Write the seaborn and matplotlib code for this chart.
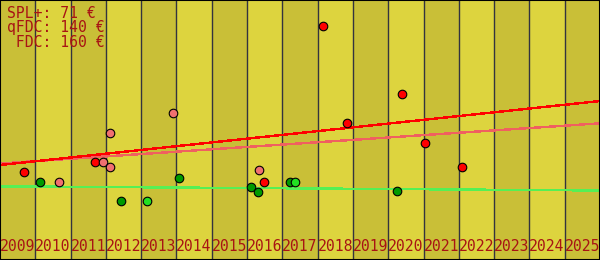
import numpy as np
import pandas as pd
import matplotlib
matplotlib.use("Agg")
import matplotlib.pyplot as plt
import seaborn as sns

# ---- data ----
years = list(range(2009, 2026))
year_labels = [str(y) for y in years]

fdc_x = [2009.68, 2011.69, 2016.48, 2018.15, 2018.83, 2020.39, 2021.04, 2022.09]
fdc_y = [88, 98, 78, 234, 137, 166, 117, 93]

qfdc_x = [2010.67, 2011.92, 2012.12, 2012.12, 2013.90, 2016.34]
qfdc_y = [78, 98, 127, 93, 147, 90]

spl_x = [2010.13, 2012.43, 2014.07, 2016.11, 2016.31, 2017.22, 2020.25]
spl_y = [78, 59, 82, 73, 68, 78, 69]

splb_x = [2013.17, 2017.36]
splb_y = [59, 78]

trend_x = [2009, 2026]
fdc_trend = [95, 159]
qfdc_trend = [96.5, 136.7]
spl_trend = [73.7, 69.5]

legend_lines = ["SPL+: 71 €", "qFDC: 140 €", " FDC: 160 €"]

# ---- style ----
sns.set_theme(style="white")
plt.rcParams['font.family'] = ['DejaVu Sans Mono', 'DejaVu Sans']

W, H = 600, 260
fig = plt.figure(figsize=(W / 100, H / 100), dpi=100)
ax = fig.add_axes([0, 0, 1, 1])

light = "#ddd43e"
dark = "#c9bf37"
ax.set_facecolor(light)
for i, y in enumerate(years):
    ax.axvspan(y, y + 1, color=dark if i % 2 == 0 else light, lw=0, zorder=0)
for y in years[1:]:
    ax.axvline(y, color="#33333f", lw=1.0, zorder=1)

# trend lines
tr = pd.DataFrame({
    "x": trend_x * 3,
    "y": spl_trend + qfdc_trend + fdc_trend,
    "s": ["spl"] * 2 + ["qfdc"] * 2 + ["fdc"] * 2,
})
sns.lineplot(data=tr, x="x", y="y", hue="s",
             palette={"spl": "#55f055", "qfdc": "#f06060", "fdc": "#ff0000"},
             lw=1.0, legend=False, ax=ax, zorder=2, antialiased=False)

pts = pd.DataFrame({
    "x": fdc_x + qfdc_x + spl_x + splb_x,
    "y": fdc_y + qfdc_y + spl_y + splb_y,
    "s": ["fdc"] * len(fdc_x) + ["qfdc"] * len(qfdc_x) + ["spl"] * len(spl_x) + ["splb"] * len(splb_x),
})
pal = {"fdc": "#ff0000", "qfdc": "#f07070", "spl": "#009a00", "splb": "#22e022"}
for key in ["fdc", "qfdc", "spl", "splb"]:
    sub = pts[pts.s == key]
    sns.scatterplot(data=sub, x="x", y="y", color=pal[key], s=38,
                    edgecolor="black", linewidth=0.8, legend=False, ax=ax, zorder=3)

ax.set_xlim(2009, 2026)
ax.set_ylim(0, 260)
ax.set_xticks([])
ax.set_yticks([])
ax.set_xlabel("")
ax.set_ylabel("")
for sp in ax.spines.values():
    sp.set_visible(True)
    sp.set_color("black")
    sp.set_linewidth(1.5)

txt_color = "#a81414"
for y, lab in zip(years, year_labels):
    ax.text(y + 0.5, 9, lab, ha="center", va="baseline", fontsize=10.6,
            color=txt_color, zorder=4)

for i, line in enumerate(legend_lines):
    fig.text(7 / W, 1 - (17.7 + i * 14.7) / H, line, ha="left", va="baseline",
             fontsize=10.6, color=txt_color)

fig.savefig("out.png", dpi=100)
